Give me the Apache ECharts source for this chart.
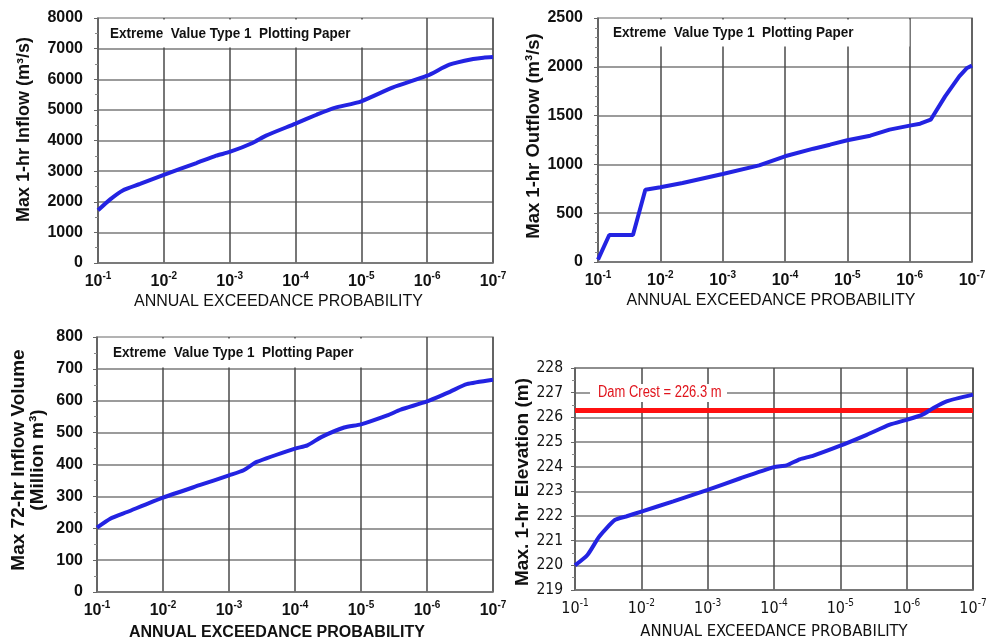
<!DOCTYPE html>
<html>
<head>
<meta charset="utf-8">
<script src="https://cdn.jsdelivr.net/npm/echarts@6/dist/echarts.min.js"></script>
<style>
  html, body { margin: 0; padding: 0; background: #fff; }
  #chart { width: 998px; height: 644px; }
</style>
</head>
<body>
<div id="chart"></div>
<script>
// annual exceedance probability vs value
var inflowProb = [1e-1, 6.6e-2, 4.2e-2, 2.3e-2, 1e-2, 3.2e-3, 1.6e-3, 1e-3, 4.5e-4, 2.8e-4, 1e-4, 4.8e-5, 2.7e-5, 1e-5, 3.3e-6, 1e-6, 4.6e-7, 2e-7, 1.4e-7, 1e-7];
var inflowPeak = [1720, 2070, 2370, 2580, 2880, 3265, 3505, 3625, 3920, 4160, 4550, 4840, 5050, 5280, 5735, 6115, 6475, 6660, 6705, 6725];

var outflowProb = [1e-1, 6.6e-2, 2.75e-2, 1.74e-2, 1e-2, 4.4e-3, 1e-3, 2.6e-4, 1e-4, 3.5e-5, 1.9e-5, 1e-5, 4.3e-6, 2.1e-6, 1e-6, 6.8e-7, 4.6e-7, 2.7e-7, 1.6e-7, 1.2e-7, 1e-7];
var outflowPeak = [25, 277, 277, 741, 765, 810, 902, 990, 1083, 1161, 1202, 1247, 1294, 1356, 1397, 1417, 1458, 1697, 1902, 1988, 2012];

var volumeProb = [1e-1, 6.3e-2, 3.5e-2, 1e-2, 2.8e-3, 1e-3, 6e-4, 3.8e-4, 1e-4, 6.5e-5, 4e-5, 1.8e-5, 1e-5, 4e-6, 2.5e-6, 1e-6, 4.5e-7, 2.5e-7, 1e-7];
var volumeMcm = [202, 230, 251, 296, 335, 366, 382, 408, 450, 460, 486, 516, 526, 554, 572, 598, 628, 652, 666];

var elevProb = [1e-1, 6.5e-2, 4.3e-2, 2.5e-2, 1.7e-2, 1e-2, 3.3e-3, 1e-3, 3.2e-4, 1e-4, 6.5e-5, 4.1e-5, 2.6e-5, 1e-5, 4e-6, 1.8e-6, 1e-6, 5.9e-7, 4e-7, 2.5e-7, 1e-7];
var elevM = [220.0, 220.42, 221.17, 221.84, 221.98, 222.18, 222.59, 223.06, 223.53, 223.98, 224.05, 224.3, 224.44, 224.85, 225.29, 225.7, 225.9, 226.1, 226.37, 226.65, 226.92];

var damCrest = 226.3;
var paperTitle = 'Extreme  Value Type 1  Plotting Paper';
var xName = 'ANNUAL EXCEEDANCE PROBABILITY';

var ARIAL = '"Liberation Sans", Arial, sans-serif';
var NARROW = '"DejaVu Sans Condensed", "Liberation Sans Narrow", "DejaVu Sans", sans-serif';
var BLUE = '#2323e2';

function pairs(xs, ys) {
    return xs.map(function(x, i) { return [x, ys[i]]; });
}

function decadeLabel(v) {
    var e = Math.round(Math.log10(v));
    return '10{sup|' + e + '}';
}

function makeX(idx, o) {
    return {
        gridIndex: idx,
        type: 'log',
        logBase: 10,
        min: 1e-7,
        max: 1e-1,
        inverse: true,
        splitNumber: 6,
        name: xName,
        nameLocation: 'middle',
        nameGap: o.nameGap,
        nameTextStyle: {
            fontFamily: o.family, fontSize: o.nameSize, fontWeight: o.nameWeight,
            color: '#111', padding: [0, o.nameShift, 0, 0]
        },
        axisLine: { show: true, lineStyle: { color: '#777', width: 1.5 } },
        axisTick: { show: false },
        axisLabel: {
            margin: 8,
            formatter: decadeLabel,
            fontFamily: o.family, fontSize: o.labelSize, fontWeight: o.labelWeight,
            color: '#111', lineHeight: 22,
            rich: { sup: { fontFamily: o.family, fontSize: 10, fontWeight: o.labelWeight, color: '#111', verticalAlign: 'top', lineHeight: 10 } }
        },
        splitLine: { show: true, showMaxLine: false, lineStyle: { color: '#4a4a4a', width: 1.5 } }
    };
}

function makeY(idx, o) {
    return {
        gridIndex: idx,
        type: 'value',
        min: o.min, max: o.max, interval: o.interval,
        name: o.name,
        nameLocation: 'middle',
        nameGap: o.nameGap,
        nameTextStyle: {
            fontFamily: ARIAL, fontSize: o.nameSize, fontWeight: 'bold', color: '#111',
            lineHeight: 19, padding: o.namePad
        },
        axisLine: { show: true, lineStyle: { color: '#666', width: 1.5 } },
        axisTick: { show: true, length: 4, lineStyle: { color: '#666' } },
        minorTick: { show: true, splitNumber: o.minor, length: 3, lineStyle: { color: '#888' } },
        axisLabel: {
            margin: o.margin, fontFamily: o.family, fontSize: o.labelSize, fontWeight: o.weight, color: '#111',
            formatter: function(v) { return String(v); }
        },
        splitLine: { show: true, showMaxLine: false, lineStyle: { color: '#7a7a7a', width: 1.5 } }
    };
}

function curve(idx, data, smooth) {
    return {
        type: 'line',
        xAxisIndex: idx,
        yAxisIndex: idx,
        data: data,
        showSymbol: false,
        smooth: smooth,
        lineStyle: { color: BLUE, width: 4 },
        z: 5
    };
}

function paperBox(x, y, w, h, tx) {
    return [
        { type: 'rect', shape: { x: x, y: y, width: w, height: h }, style: { fill: '#fff' }, z: 50, silent: true },
        { type: 'text', x: tx, y: y + h / 2, scaleX: 0.9, z: 51, silent: true,
          style: { text: paperTitle, fill: '#111', font: 'bold 15px ' + ARIAL,
                   textAlign: 'left', textVerticalAlign: 'middle', align: 'left', verticalAlign: 'middle' } }
    ];
}

var chart = echarts.init(document.getElementById('chart'), null, { renderer: 'canvas' });

// dam crest drawn as its own series so the curve sits on top of it
var crestSeries = {
    type: 'line',
    xAxisIndex: 3,
    yAxisIndex: 3,
    data: [],
    z: 3,
    markLine: {
        silent: true,
        symbol: 'none',
        label: { show: false },
        lineStyle: { color: '#ff1010', width: 5, type: 'solid' },
        data: [{ yAxis: damCrest }]
    }
};

var option = {
    backgroundColor: '#fff',
    animation: false,
    grid: [
        { left: 98, top: 18, width: 395, height: 245, show: true, borderColor: '#9a9a9a', borderWidth: 1.5 },
        { left: 598, top: 18, width: 374, height: 244, show: true, borderColor: '#9a9a9a', borderWidth: 1.5 },
        { left: 97, top: 337, width: 396, height: 255, show: true, borderColor: '#9a9a9a', borderWidth: 1.5 },
        { left: 575, top: 368, width: 398, height: 222, show: true, borderColor: '#6a6a6a', borderWidth: 1.5 }
    ],
    xAxis: [
        makeX(0, { nameGap: 31, nameShift: 34, family: ARIAL, nameSize: 16, nameWeight: 'normal', labelSize: 16, labelWeight: 'bold' }),
        makeX(1, { nameGap: 30, nameShift: 28, family: ARIAL, nameSize: 16, nameWeight: 'normal', labelSize: 16, labelWeight: 'bold' }),
        makeX(2, { nameGap: 33, nameShift: 36, family: ARIAL, nameSize: 16, nameWeight: 'bold', labelSize: 16, labelWeight: 'bold' }),
        makeX(3, { nameGap: 33, nameShift: 0, family: NARROW, nameSize: 16.5, nameWeight: 'normal', labelSize: 16, labelWeight: 'normal' })
    ],
    yAxis: [
        makeY(0, { min: 0, max: 8000, interval: 1000, minor: 2, name: 'Max 1-hr Inflow (m³/s)', nameSize: 18, nameGap: 64, namePad: [0, 0, 0, 22], margin: 15, family: ARIAL, labelSize: 16, weight: 'bold' }),
        makeY(1, { min: 0, max: 2500, interval: 500, minor: 5, name: 'Max 1-hr Outflow (m³/s)', nameSize: 18.5, nameGap: 54, namePad: [0, 0, 0, 8], margin: 15, family: ARIAL, labelSize: 16, weight: 'bold' }),
        makeY(2, { min: 0, max: 800, interval: 100, minor: 2, name: 'Max 72-hr Inflow Volume\n(Million m³)', nameSize: 19, nameGap: 50, namePad: [0, 0, 0, 9], margin: 14, family: ARIAL, labelSize: 16, weight: 'bold' }),
        makeY(3, { min: 219, max: 228, interval: 1, minor: 2, name: 'Max. 1-hr Elevation (m)', nameSize: 19, nameGap: 36, namePad: [0, 6, 0, 0], margin: 12, family: NARROW, labelSize: 15.5, weight: 'normal' })
    ],
    series: [
        curve(0, pairs(inflowProb, inflowPeak), 0.2),
        curve(1, pairs(outflowProb, outflowPeak), false),
        curve(2, pairs(volumeProb, volumeMcm), 0.2),
        crestSeries,
        curve(3, pairs(elevProb, elevM), 0.2)
    ],
    graphic: [].concat(
        paperBox(99.5, 19.5, 324, 28, 110),
        paperBox(599.5, 19.5, 310, 27, 613),
        paperBox(98.5, 338.5, 324, 29, 113),
        [
            { type: 'rect', shape: { x: 590, y: 384, width: 137, height: 18 }, style: { fill: '#fff' }, z: 50, silent: true },
            { type: 'text', x: 598, y: 393, scaleX: 0.81, z: 51, silent: true,
              style: { text: 'Dam Crest = ' + damCrest + ' m', fill: '#e0141c', font: '16px ' + ARIAL,
                       textAlign: 'left', textVerticalAlign: 'middle', align: 'left', verticalAlign: 'middle' } }
        ]
    )
};

chart.setOption(option);
</script>
</body>
</html>
